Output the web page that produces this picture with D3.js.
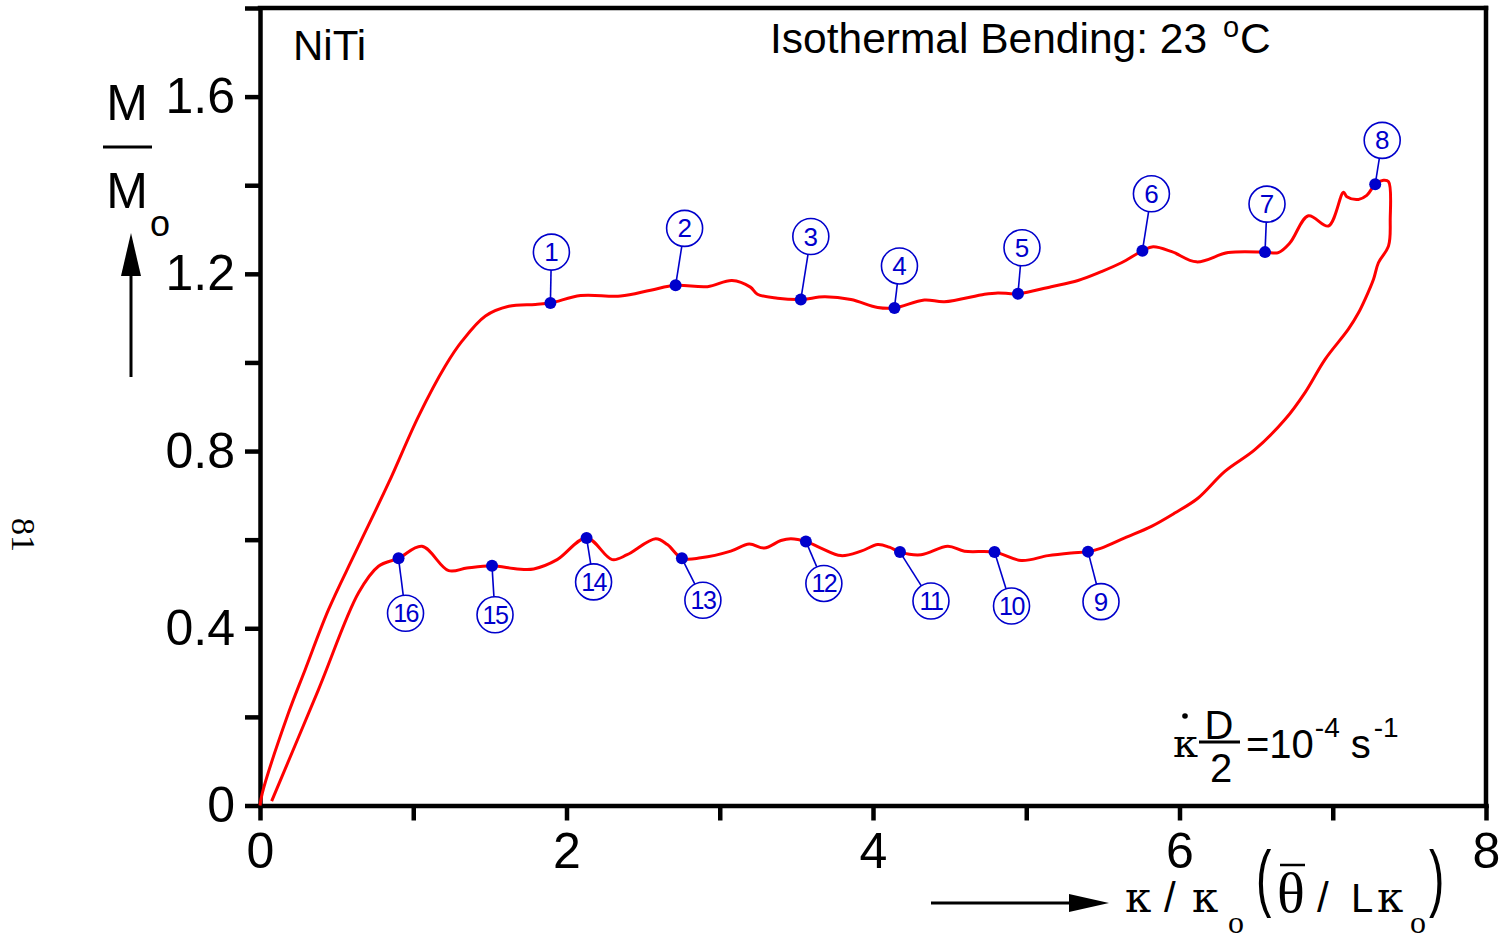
<!DOCTYPE html>
<html>
<head>
<meta charset="utf-8">
<script src="https://cdn.jsdelivr.net/npm/d3@7"></script>
<style>
  html, body { margin: 0; padding: 0; background: #fff; }
  svg { display: block; }
  .sans { font-family: "Liberation Sans", Arial, sans-serif; }
  .serif { font-family: "Liberation Serif", "Times New Roman", serif; }
  .greek { font-family: "DejaVu Serif", "Liberation Serif", serif; }
</style>
</head>
<body>
<svg id="chart" width="1501" height="940"></svg>
<script>
// Loading branch of the moment–curvature loop (x = κ/κo, y = M/Mo)
const loadX = [0.0, 0.015, 0.185, 0.294, 0.447, 0.621, 0.839, 1.035, 1.209, 1.318, 1.471, 1.623, 1.797, 1.895,
  2.092, 2.353, 2.549, 2.712, 2.92, 3.08, 3.2, 3.246, 3.377, 3.529, 3.682, 3.856, 4.031, 4.14,
  4.335, 4.466, 4.728, 4.815, 4.946, 5.163, 5.338, 5.49, 5.621, 5.758, 5.828, 5.95, 6.111, 6.318,
  6.558, 6.645, 6.721, 6.841, 6.972, 7.07, 7.092, 7.168, 7.222, 7.277, 7.331, 7.364];
const loadY = [0.0, 0.028, 0.208, 0.306, 0.442, 0.57, 0.728, 0.879, 0.992, 1.048, 1.105, 1.127, 1.131, 1.134,
  1.151, 1.150, 1.163, 1.174, 1.171, 1.185, 1.170, 1.154, 1.145, 1.142, 1.148, 1.142, 1.124, 1.123,
  1.141, 1.137, 1.154, 1.157, 1.155, 1.171, 1.185, 1.205, 1.225, 1.252, 1.261, 1.250, 1.227, 1.248,
  1.249, 1.248, 1.270, 1.331, 1.308, 1.384, 1.374, 1.368, 1.377, 1.402, 1.411, 1.408];

// Unloading branch, from maximum curvature back to zero moment
const unloadX = [7.375, 7.364, 7.298, 7.266, 7.21, 7.168, 7.102, 6.95, 6.819, 6.688, 6.492, 6.296, 6.122,
  5.969, 5.817, 5.643, 5.49, 5.403, 5.294, 5.142, 4.967, 4.793, 4.597, 4.488, 4.314, 4.176, 4.107,
  4.031, 3.922, 3.791, 3.66, 3.562, 3.464, 3.399, 3.29, 3.192, 3.072, 2.876, 2.753, 2.658, 2.582,
  2.396, 2.298, 2.131, 1.939, 1.786, 1.678, 1.514, 1.35, 1.231, 1.057, 0.904, 0.773, 0.643, 0.381, 0.076];
const unloadY = [1.323, 1.263, 1.225, 1.188, 1.142, 1.112, 1.075, 1.007, 0.932, 0.871, 0.803, 0.754, 0.694,
  0.660, 0.630, 0.604, 0.581, 0.573, 0.570, 0.564, 0.553, 0.572, 0.574, 0.585, 0.566, 0.572, 0.583,
  0.589, 0.574, 0.564, 0.581, 0.596, 0.602, 0.598, 0.581, 0.590, 0.574, 0.559, 0.558, 0.589, 0.602,
  0.566, 0.555, 0.604, 0.555, 0.534, 0.534, 0.541, 0.536, 0.530, 0.585, 0.558, 0.540, 0.480, 0.261, 0.010];

// Numbered measurement stations along the loop
const stationNo = [1, 2, 3, 4, 5, 6, 7, 8, 9, 10, 11, 12, 13, 14, 15, 16];
const stationX = [1.895, 2.712, 3.529, 4.14, 4.946, 5.758, 6.558, 7.277, 5.403, 4.793, 4.176, 3.562, 2.753, 2.131, 1.514, 0.904];
const stationY = [1.134, 1.174, 1.142, 1.123, 1.155, 1.252, 1.249, 1.402, 0.573, 0.572, 0.572, 0.596, 0.558, 0.604, 0.541, 0.558];

// Axis ticks
const xTicks = [0, 1, 2, 3, 4, 5, 6, 7, 8];
const xTickLabels = ["0", "", "2", "", "4", "", "6", "", "8"];
const yTicks = [0, 0.2, 0.4, 0.6, 0.8, 1.0, 1.2, 1.4, 1.6, 1.8];
const yTickLabels = ["0", "", "0.4", "", "0.8", "", "1.2", "", "1.6", ""];

// Callout bubble offsets (pixels, relative to each station marker)
const calloutDx = [1, 9, 10, 5, 4, 9, 2, 7, 13, 17, 31, 18, 21, 7, 3, 7];
const calloutDy = [-51, -57, -63, -42, -46, -57, -48, -44, 50, 54, 49, 42, 42, 44, 49, 55];

const RED = "#ff0000";
const BLUE = "#0000cc";
const AXW = 4.5;

const svg = d3.select("#chart");
const x = d3.scaleLinear().domain([0, 8]).range([260, 1486]);
const y = d3.scaleLinear().domain([0, 1.8]).range([805.5, 8]);

// Frame: top and right edges
svg.append("line").attr("x1", x(0)).attr("x2", x(8)).attr("y1", y(1.8)).attr("y2", y(1.8))
  .attr("stroke", "#000").attr("stroke-width", AXW).attr("stroke-linecap", "square");
svg.append("line").attr("x1", x(8)).attr("x2", x(8)).attr("y1", y(1.8)).attr("y2", y(0))
  .attr("stroke", "#000").attr("stroke-width", AXW).attr("stroke-linecap", "square");

// Axes
const xAxis = d3.axisBottom(x).tickValues(xTicks).tickSize(15).tickSizeOuter(0).tickPadding(12)
  .tickFormat((d, i) => xTickLabels[i]);
const yAxis = d3.axisLeft(y).tickValues(yTicks).tickSize(15).tickSizeOuter(0).tickPadding(10)
  .tickFormat((d, i) => yTickLabels[i]);

const gx = svg.append("g").attr("transform", `translate(0,${y(0)})`).call(xAxis);
const gy = svg.append("g").attr("transform", `translate(${x(0)},0)`).call(yAxis);
[gx, gy].forEach(g => {
  g.select(".domain").attr("stroke", "#000").attr("stroke-width", AXW).attr("stroke-linecap", "square");
  g.selectAll(".tick line").attr("stroke", "#000").attr("stroke-width", AXW);
  g.selectAll(".tick text").attr("class", "sans").attr("font-size", 50).attr("fill", "#000");
});

// Moment–curvature loop
const loopPts = loadX.map((v, i) => [v, loadY[i]]).concat(unloadX.map((v, i) => [v, unloadY[i]]));
const line = d3.line().x(d => x(d[0])).y(d => y(d[1])).curve(d3.curveCatmullRom.alpha(0.5));
svg.append("path").datum(loopPts).attr("d", line)
  .attr("fill", "none").attr("stroke", RED).attr("stroke-width", 3).attr("stroke-linejoin", "round");

// Station markers with numbered callouts
const R = 18;
const st = svg.append("g").selectAll("g").data(stationNo).join("g");
st.each(function (n, i) {
  const g = d3.select(this);
  const px = x(stationX[i]), py = y(stationY[i]);
  const cx = px + calloutDx[i], cy = py + calloutDy[i];
  const len = Math.hypot(cx - px, cy - py);
  const ex = cx - (cx - px) * R / len, ey = cy - (cy - py) * R / len;
  g.append("line").attr("x1", px).attr("y1", py).attr("x2", ex).attr("y2", ey)
    .attr("stroke", BLUE).attr("stroke-width", 1.6);
  g.append("circle").attr("cx", cx).attr("cy", cy).attr("r", R)
    .attr("fill", "#fff").attr("stroke", BLUE).attr("stroke-width", 1.6);
  g.append("text").attr("class", "sans").attr("x", cx).attr("y", cy + 9)
    .attr("text-anchor", "middle").attr("font-size", n >= 10 ? 25 : 26).attr("fill", BLUE)
    .attr("letter-spacing", n >= 10 ? -1.5 : 0).text(n);
  g.append("circle").attr("cx", px).attr("cy", py).attr("r", 6).attr("fill", BLUE);
});

// Titles inside the frame
svg.append("text").attr("class", "sans").attr("x", 293).attr("y", 60).attr("font-size", 42).text("NiTi");
const title = svg.append("text").attr("class", "sans").attr("x", 770).attr("y", 53).attr("font-size", 42.5);
title.append("tspan").text("Isothermal Bending: 23 ");
title.append("tspan").attr("font-size", 29).attr("dy", -16).attr("dx", 4).text("o");
title.append("tspan").attr("font-size", 42.5).attr("dy", 16).attr("dx", 1).text("C");

// Strain-rate note
const note = svg.append("g");
note.append("text").attr("class", "greek").attr("x", 1173).attr("y", 757).attr("font-size", 40).text("κ");
note.append("circle").attr("cx", 1185).attr("cy", 716).attr("r", 2.8).attr("fill", "#000");
note.append("text").attr("class", "sans").attr("x", 1219).attr("y", 739).attr("text-anchor", "middle").attr("font-size", 40).text("D");
note.append("line").attr("x1", 1199).attr("x2", 1240).attr("y1", 742).attr("y2", 742).attr("stroke", "#000").attr("stroke-width", 3);
note.append("text").attr("class", "sans").attr("x", 1221).attr("y", 782).attr("text-anchor", "middle").attr("font-size", 40).text("2");
const rate = note.append("text").attr("class", "sans").attr("x", 1246).attr("y", 758).attr("font-size", 40);
rate.append("tspan").text("=10");
rate.append("tspan").attr("font-size", 28).attr("dy", -21).attr("dx", 1).text("-4");
rate.append("tspan").attr("font-size", 40).attr("dy", 21).attr("dx", 11).text("s");
rate.append("tspan").attr("font-size", 28).attr("dy", -21).attr("dx", 3).text("-1");

// Y-axis label: M / Mo with upward arrow
const yl = svg.append("g");
yl.append("text").attr("class", "sans").attr("x", 127).attr("y", 120).attr("text-anchor", "middle").attr("font-size", 50).text("M");
yl.append("line").attr("x1", 103).attr("x2", 152).attr("y1", 147).attr("y2", 147).attr("stroke", "#000").attr("stroke-width", 3);
yl.append("text").attr("class", "sans").attr("x", 127).attr("y", 208).attr("text-anchor", "middle").attr("font-size", 50).text("M");
yl.append("text").attr("class", "sans").attr("x", 160).attr("y", 236).attr("text-anchor", "middle").attr("font-size", 36).text("o");
yl.append("line").attr("x1", 131).attr("x2", 131).attr("y1", 377).attr("y2", 268).attr("stroke", "#000").attr("stroke-width", 3);
yl.append("path").attr("d", "M131,233 L121,276 L141,276 Z").attr("fill", "#000");

// X-axis label: κ / κo (θ̄ / Lκo) with rightward arrow
const xl = svg.append("g");
xl.append("line").attr("x1", 931).attr("x2", 1080).attr("y1", 903).attr("y2", 903).attr("stroke", "#000").attr("stroke-width", 3);
xl.append("path").attr("d", "M1109,903 L1069,894 L1069,912 Z").attr("fill", "#000");
const txt = (cls, t, px, py, fs) => xl.append("text").attr("class", cls).attr("x", px).attr("y", py).attr("font-size", fs).text(t);
txt("greek", "κ", 1125, 912, 42);
txt("sans", "/", 1164, 912, 42);
txt("greek", "κ", 1192, 912, 42);
txt("serif", "o", 1228, 933, 32);
// tall, thin parentheses
xl.append("text").attr("class", "sans").attr("font-size", 46).attr("transform", "translate(1256,903) scale(1,1.6)").text("(");
txt("serif", "θ", 1277, 912, 58);
xl.append("line").attr("x1", 1280).attr("x2", 1305).attr("y1", 865).attr("y2", 865).attr("stroke", "#000").attr("stroke-width", 2.5);
txt("sans", "/", 1317, 912, 42);
txt("sans", "L", 1351, 912, 40);
txt("greek", "κ", 1377, 912, 42);
txt("serif", "o", 1410, 933, 32);
xl.append("text").attr("class", "sans").attr("font-size", 46).attr("transform", "translate(1429,903) scale(1,1.6)").text(")");

// Page number printed sideways in the margin
svg.append("text").attr("class", "serif").attr("font-size", 34)
  .attr("transform", "translate(12,535) rotate(90)").attr("text-anchor", "middle").text("81");
</script>
</body>
</html>
